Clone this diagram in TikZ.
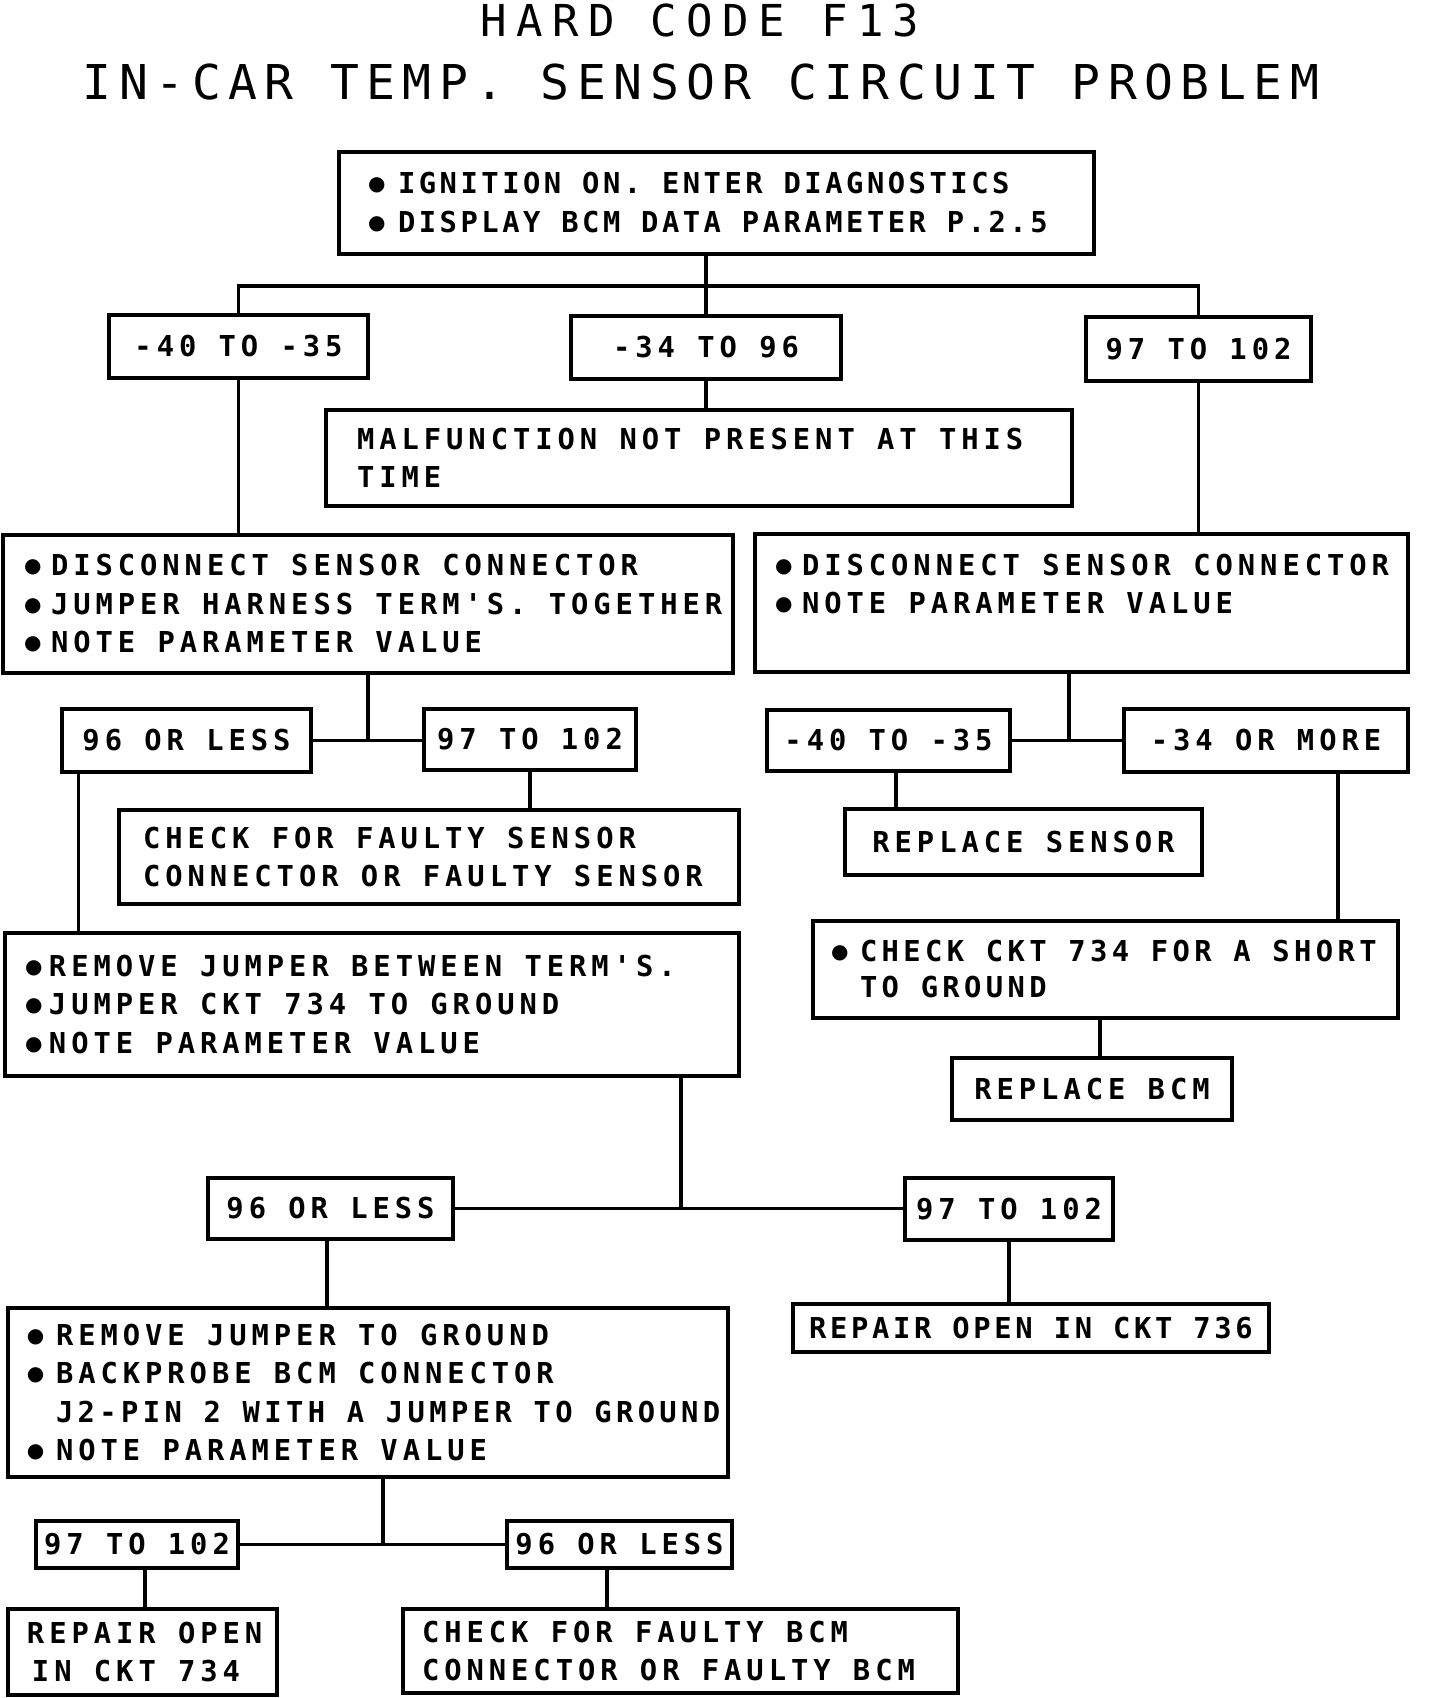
\documentclass[tikz,border=0pt]{standalone}
\usepackage{fontspec}
\newfontfamily\bxfont[LetterSpace=17.2]{DejaVu Sans Mono Bold}
\newfontfamily\bxtight[LetterSpace=12.7]{DejaVu Sans Mono Bold}
\newfontfamily\bxmid[LetterSpace=15.2]{DejaVu Sans Mono Bold}
\newfontfamily\bxfonttop[LetterSpace=12.2]{DejaVu Sans Mono Bold}
\newfontfamily\ttlfont[LetterSpace=15.6]{DejaVu Sans Mono}
\newfontfamily\ttlfonta[LetterSpace=21.5]{DejaVu Sans Mono}
\newfontfamily\bulfont{DejaVu Sans}
\newcommand\bul[1]{\makebox[#1pt][l]{\raisebox{3pt}{\bulfont\fontsize{20}{20}\selectfont ●}}}
\newcommand\ml[1]{\mbox{\spaceskip=0pt\xspaceskip=0pt\relax #1}}
\tikzset{
  ln/.style={line width=3.5pt},
  bx/.style={draw, line width=3.5pt, inner ysep=0pt, font={\bxfont\fontsize{28.8}{38.5}\selectfont\frenchspacing}},
  tb/.style={bx, align=left},
  sb/.style={bx, inner xsep=0pt, align=center},
  ttl/.style={inner sep=0pt, font={\ttlfont\fontsize{48}{48}\selectfont}}
}
\begin{document}
\begin{tikzpicture}[x=1pt,y=-1pt]
\useasboundingbox (0,0) rectangle (1440,1698);
\fill[white] (0,0) rectangle (1440,1698);
% titles
\node[ttl, font={\ttlfonta\fontsize{44}{44}\selectfont}] (t1) at (700,20) {HARD CODE F13};
\node[ttl] (t2) at (701,82.5) {IN-CAR TEMP. SENSOR CIRCUIT PROBLEM};
% boxes
\node[tb, font={\bxfonttop\fontsize{28.8}{39}\selectfont\frenchspacing}, minimum width=755pt, minimum height=102pt, inner xsep=29pt, text width=697pt] (top) at (716.5,203)
  {\ml{\bul{30}IGNITION ON. ENTER DIAGNOSTICS}\\\ml{\bul{30}DISPLAY BCM DATA PARAMETER P.2.5}};
\node[sb, minimum width=259pt, minimum height=63pt] (A1) at (238.5,346.5) {-40 TO -35};
\node[sb, minimum width=270pt, minimum height=63pt] (A2) at (706,347.5) {-34 TO 96};
\node[sb, minimum width=225pt, minimum height=64pt] (A3) at (1198.5,349) {97 TO 102};
\node[tb, minimum width=746pt, minimum height=96pt, inner xsep=31pt, text width=684pt] (Malf) at (699,458)
  {\ml{MALFUNCTION NOT PRESENT AT THIS}\\\ml{TIME}};
\node[tb, minimum width=730pt, minimum height=138pt, inner xsep=21pt, text width=688pt] (L1) at (368,604)
  {\ml{\bul{27}DISCONNECT SENSOR CONNECTOR}\\\ml{\bul{27}JUMPER HARNESS TERM'S. TOGETHER}\\\ml{\bul{27}NOTE PARAMETER VALUE}};
\node[tb, minimum width=653pt, minimum height=138pt, inner xsep=20pt, text width=613pt] (R1) at (1081.5,603)
  {\ml{\bul{27}DISCONNECT SENSOR CONNECTOR}\\\ml{\bul{27}NOTE PARAMETER VALUE}\\~};
\node[sb, minimum width=249pt, minimum height=63pt] (B1) at (186.5,740.5) {96 OR LESS};
\node[sb, minimum width=212pt, minimum height=61pt] (B2) at (530,739.5) {97 TO 102};
\node[tb, minimum width=620pt, minimum height=94pt, inner xsep=24pt, text width=572pt] (CS) at (429,857)
  {\ml{CHECK FOR FAULTY SENSOR}\\\ml{CONNECTOR OR FAULTY SENSOR}};
\node[sb, minimum width=243pt, minimum height=61pt] (B3) at (888.5,740.5) {-40 TO -35};
\node[sb, minimum width=284pt, minimum height=63pt] (B4) at (1266,740.5) {-34 OR MORE};
\node[sb, minimum width=357pt, minimum height=66pt] (RS) at (1023.5,842) {REPLACE SENSOR};
\node[tb, font={\bxmid\fontsize{28.8}{36}\selectfont\frenchspacing}, minimum width=585pt, minimum height=97pt, inner xsep=18pt, text width=549pt] (CK) at (1105.5,969.5)
  {\ml{\bul{29}CHECK CKT 734 FOR A SHORT}\\\ml{\makebox[29pt]{}TO GROUND}};
\node[sb, minimum width=280pt, minimum height=62pt] (RB) at (1092,1089) {REPLACE BCM};
\node[tb, minimum width=734pt, minimum height=143pt, inner xsep=20pt, text width=694pt] (RJ) at (372,1004.5)
  {\ml{\bul{24}REMOVE JUMPER BETWEEN TERM'S.}\\\ml{\bul{24}JUMPER CKT 734 TO GROUND}\\\ml{\bul{24}NOTE PARAMETER VALUE}};
\node[sb, minimum width=245pt, minimum height=61pt] (C1) at (330.5,1208.5) {96 OR LESS};
\node[sb, minimum width=208pt, minimum height=62pt] (C2) at (1009,1209) {97 TO 102};
\node[sb, font={\bxtight\fontsize{28.8}{38.5}\selectfont\frenchspacing}, minimum width=476pt, minimum height=48pt] (RO736) at (1031,1328) {REPAIR OPEN IN CKT 736};
\node[tb, minimum width=720pt, minimum height=169pt, inner xsep=19pt, text width=682pt] (BP) at (368,1392.5)
  {\ml{\bul{29}REMOVE JUMPER TO GROUND}\\\ml{\bul{29}BACKPROBE BCM CONNECTOR}\\\ml{\makebox[29pt]{}\bxmid J2-PIN 2 WITH A JUMPER TO GROUND}\\\ml{\bul{29}NOTE PARAMETER VALUE}};
\node[sb, minimum width=202pt, minimum height=47pt] (D1) at (137,1544.5) {97 TO 102};
\node[sb, minimum width=225pt, minimum height=47pt] (D2) at (619.5,1544.5) {96 OR LESS};
\node[tb, minimum width=269pt, minimum height=86pt, inner xsep=19pt, text width=231pt] (RO734) at (142.5,1652)
  {\ml{REPAIR OPEN}\\\ml{\makebox[5pt]{}IN CKT 734}};
\node[tb, minimum width=555pt, minimum height=84pt, inner xsep=19pt, text width=517pt] (CB) at (680.5,1651)
  {\ml{CHECK FOR FAULTY BCM}\\\ml{CONNECTOR OR FAULTY BCM}};
% connectors
\coordinate (j0) at (706,286);
\draw[ln] (top.south -| j0) -- (A2.north -| j0);
\draw[ln] (A1.north) -- (A1.north |- j0) -- (A3.north |- j0) -- (A3.north);
\draw[ln] (A2.south) -- (A2.south |- Malf.north);
\draw[ln] (A1.south) -- (A1.south |- L1.north);
\draw[ln] (A3.south) -- (A3.south |- R1.north);
\draw[ln] (L1.south) -- (L1.south |- B1.east);
\draw[ln] (B1.east) -- (B1.east -| B2.west);
\draw[ln] (B2.south) -- (B2.south |- CS.north);
\draw[ln] ([xshift=18pt]B1.south west) -- ([xshift=18pt]B1.south west |- RJ.north);
\draw[ln] ([xshift=-12.5pt]R1.south) -- ([xshift=-12.5pt]R1.south |- B3.east);
\draw[ln] (B3.east) -- (B3.east -| B4.west);
\draw[ln] ([xshift=7.5pt]B3.south) -- ([xshift=7.5pt]B3.south |- RS.north);
\draw[ln] ([xshift=72pt]B4.south) -- ([xshift=72pt]B4.south |- CK.north);
\draw[ln] ([xshift=-5.5pt]CK.south) -- ([xshift=-5.5pt]CK.south |- RB.north);
\draw[ln] ([xshift=309pt]RJ.south) -- ([xshift=309pt]RJ.south |- C1.east);
\draw[ln] (C1.east) -- (C1.east -| C2.west);
\draw[ln] (C2.south) -- (C2.south |- RO736.north);
\draw[ln] ([xshift=-3.5pt]C1.south) -- ([xshift=-3.5pt]C1.south |- BP.north);
\draw[ln] ([xshift=15pt]BP.south) -- ([xshift=15pt]BP.south |- D1.east);
\draw[ln] (D1.east) -- (D1.east -| D2.west);
\draw[ln] ([xshift=8pt]D1.south) -- ([xshift=8pt]D1.south |- RO734.north);
\draw[ln] ([xshift=-12.5pt]D2.south) -- ([xshift=-12.5pt]D2.south |- CB.north);
\end{tikzpicture}
\end{document}
